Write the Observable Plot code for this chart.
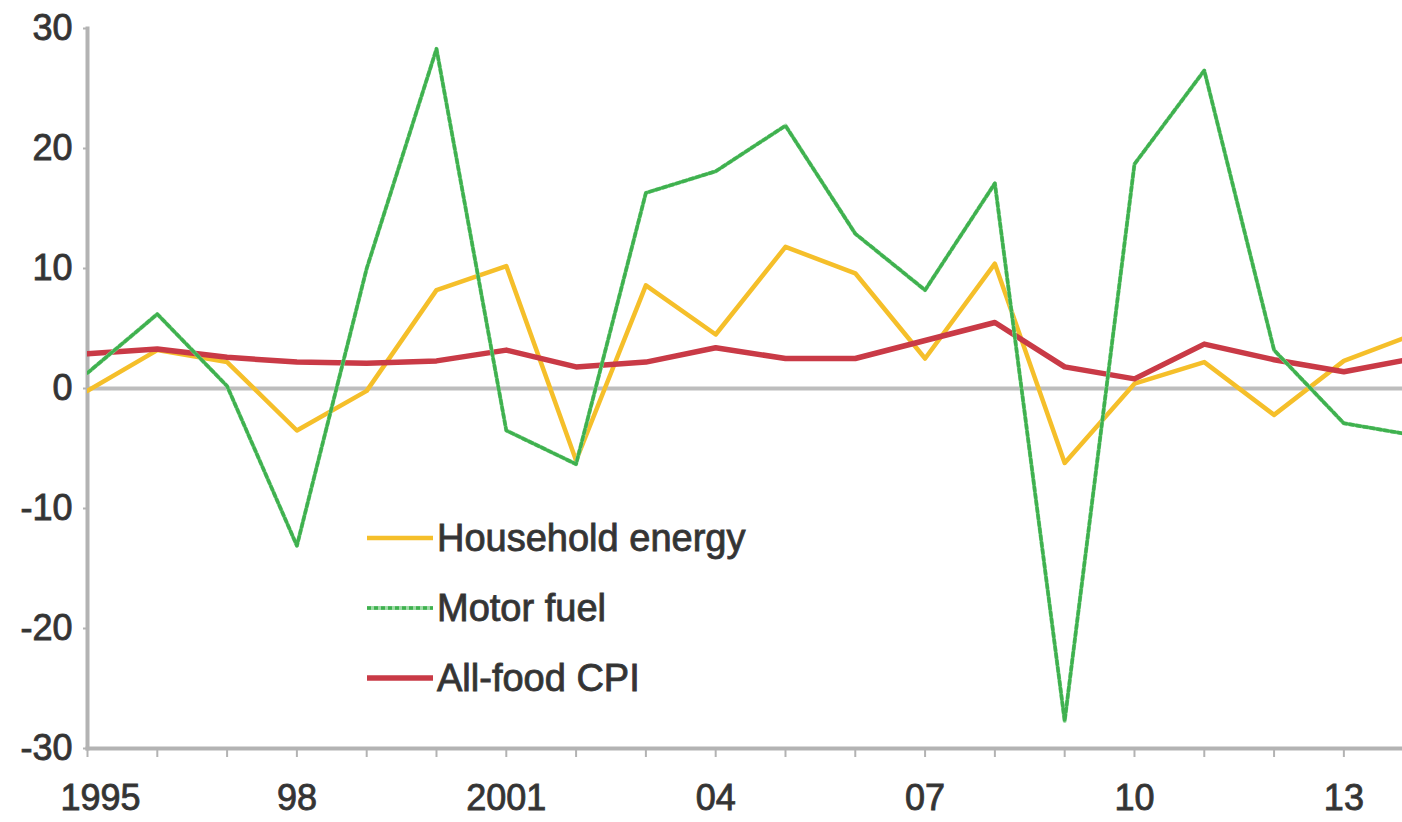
<!DOCTYPE html>
<html>
<head>
<meta charset="utf-8">
<script src="https://cdn.jsdelivr.net/npm/d3@7"></script>
<script src="https://cdn.jsdelivr.net/npm/@observablehq/plot@0.6"></script>
<style>
  html, body { margin: 0; padding: 0; background: #fff; }
  #wrap { position: relative; width: 1402px; height: 822px; overflow: hidden; font-family: "Liberation Sans", Arial, sans-serif; }
  #wrap svg text { stroke: #3a3a3a; stroke-width: 0.9px; }
  #legend { position: absolute; left: 367px; top: 516px; }
  .row { display: flex; align-items: center; height: 44px; margin-bottom: 26px; }
  .row span { font-size: 38px; line-height: 44px; color: #333; margin-left: 4px; white-space: nowrap; -webkit-text-stroke: 0.9px #3a3a3a; }
</style>
</head>
<body>
<div id="wrap"></div>
<script>
const years = [1995,1996,1997,1998,1999,2000,2001,2002,2003,2004,2005,2006,2007,2008,2009,2010,2011,2012,2013,2014];
const householdEnergy = [-0.2, 3.2, 2.2, -3.5, -0.2, 8.2, 10.2, -6.0, 8.6, 4.5, 11.8, 9.6, 2.5, 10.4, -6.2, 0.4, 2.2, -2.2, 2.3, 4.5];
const motorFuel = [1.3, 6.2, 0.2, -13.1, 10.0, 28.3, -3.5, -6.3, 16.3, 18.1, 21.9, 12.9, 8.2, 17.1, -27.7, 18.7, 26.5, 3.2, -2.9, -3.9];
const allFoodCPI = [2.9, 3.3, 2.6, 2.2, 2.1, 2.3, 3.2, 1.8, 2.2, 3.4, 2.5, 2.5, 4.0, 5.5, 1.8, 0.8, 3.7, 2.4, 1.4, 2.5];
const seriesNames = ["Household energy", "Motor fuel", "All-food CPI"];
const yTicks = [-30, -20, -10, 0, 10, 20, 30];
const xLabelYears = [1995, 1998, 2001, 2004, 2007, 2010, 2013];
const xLabels = ["1995", "98", "2001", "04", "07", "10", "13"];

const colors = { "Household energy": "#f5bf2a", "Motor fuel": "#3fb14f", "All-food CPI": "#c93a46" };

const toRows = (vals) => years.map((yr, i) => ({ year: yr, value: vals[i] }));
const he = toRows(householdEnergy);
const mf = toRows(motorFuel);
const cpi = toRows(allFoodCPI);
const labelOf = new Map(xLabelYears.map((y, i) => [y, xLabels[i]]));

const axisGray = "#b3b3b3";
const textColor = "#333";

const chart = Plot.plot({
  width: 1402,
  height: 822,
  marginLeft: 87,
  marginRight: 0,
  marginTop: 28,
  marginBottom: 74,
  style: { fontFamily: "Liberation Sans, Arial, sans-serif", color: textColor, background: "#fff", overflow: "visible" },
  x: { domain: [1995, 2013.84], axis: null, label: null },
  y: { domain: [-30, 30], axis: null, label: null },
  marks: [
    Plot.ruleY([0], { stroke: "#bdbdbd", strokeWidth: 4 }),
    Plot.axisY({ ticks: yTicks, label: null, tickSize: 4, tickPadding: 11, fontSize: 36, stroke: axisGray, strokeWidth: 2, tickFormat: d => String(d) }),
    Plot.axisX({ ticks: years.slice(0, 19), label: null, tickSize: 9, tickFormat: () => "", stroke: axisGray, strokeWidth: 2 }),
    Plot.axisX({ ticks: xLabelYears.slice(0, 1), label: null, tickSize: 0, tickPadding: 36, fontSize: 36, dx: 13, tickFormat: d => labelOf.get(d) }),
    Plot.axisX({ ticks: xLabelYears.slice(1), label: null, tickSize: 0, tickPadding: 36, fontSize: 36, tickFormat: d => labelOf.get(d) }),
    Plot.frame({ anchor: "left", stroke: axisGray, strokeWidth: 4 }),
    Plot.frame({ anchor: "bottom", stroke: axisGray, strokeWidth: 4 }),
    Plot.line(he, { x: "year", y: "value", stroke: colors["Household energy"], strokeWidth: 4.5, clip: true }),
    Plot.line(cpi, { x: "year", y: "value", stroke: colors["All-food CPI"], strokeWidth: 5.5, clip: true }),
    Plot.line(mf, { x: "year", y: "value", stroke: "#9edba6", strokeWidth: 4, clip: true }),
    Plot.line(mf, { x: "year", y: "value", stroke: colors["Motor fuel"], strokeWidth: 3.5, strokeDasharray: "4,3", clip: true })
  ]
});

const wrap = document.getElementById("wrap");
wrap.appendChild(chart);

const legend = document.createElement("div");
legend.id = "legend";
seriesNames.forEach(name => {
  const row = document.createElement("div");
  row.className = "row";
  const dashed = name === "Motor fuel";
  const w = name === "All-food CPI" ? 5.5 : (dashed ? 3.5 : 4.5);
  row.innerHTML = `<svg width="66" height="12">` +
    (dashed ? `<line x1="0" y1="6" x2="66" y2="6" stroke="#9edba6" stroke-width="4"/>` : "") +
    `<line x1="0" y1="6" x2="66" y2="6" stroke="${colors[name]}" stroke-width="${w}"${dashed ? ' stroke-dasharray="4,3"' : ''}/></svg>` +
    `<span>${name}</span>`;
  legend.appendChild(row);
});
wrap.appendChild(legend);
</script>
</body>
</html>
